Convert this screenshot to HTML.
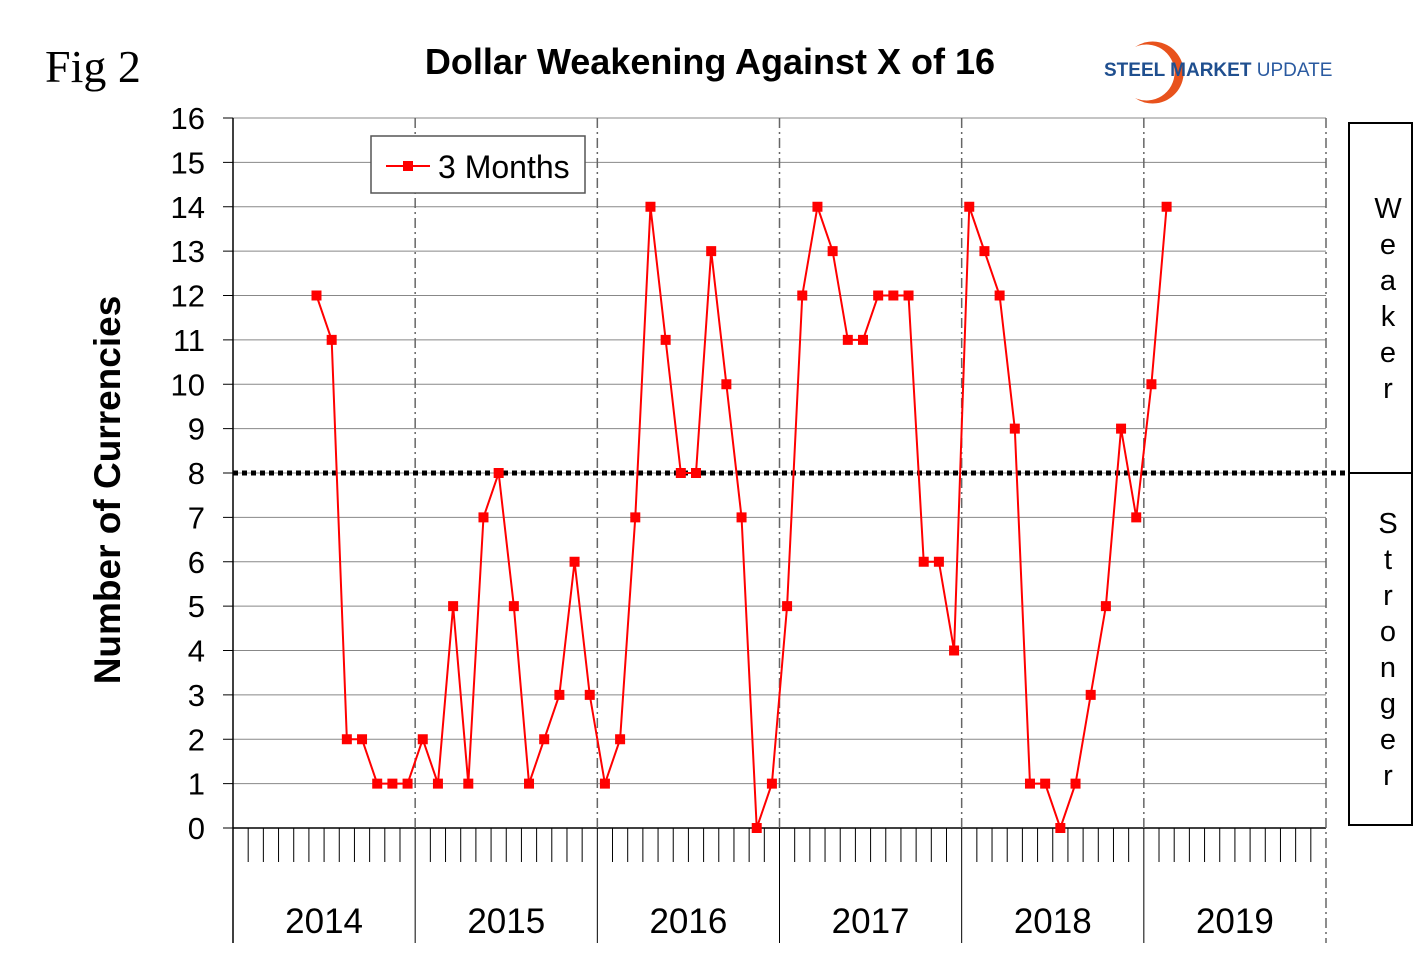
<!DOCTYPE html>
<html><head><meta charset="utf-8"><style>
body{margin:0;background:#fff;}
svg text{font-family:"Liberation Sans",Arial,sans-serif;}
</style></head><body>
<svg id="c" width="1420" height="973" xmlns="http://www.w3.org/2000/svg">
<text x="45" y="82" font-family="Liberation Serif" style="font-family:'Liberation Serif',serif" font-size="46">Fig 2</text>
<text x="710" y="74" text-anchor="middle" font-size="36" font-weight="bold">Dollar Weakening Against X of 16</text>
<g>
<path d="M1135 47 A31 31 0 1 1 1135 98 A28 28 0 1 0 1135 47 Z" fill="#e8521c"/>
<text x="1104" y="76" font-size="19" font-weight="bold" fill="#1f4f8f">STEEL MARKET <tspan font-weight="normal" fill="#2a5aa0">UPDATE</tspan></text>
</g>
<g id="grid"></g>
<g id="marks"></g>
<text transform="translate(120,490) rotate(-90)" text-anchor="middle" font-size="37" font-weight="bold">Number of Currencies</text>
<rect x="371" y="136" width="214" height="57" fill="#fff" stroke="#555" stroke-width="1.5"/>
<line x1="386" y1="166" x2="430" y2="166" stroke="#f00" stroke-width="2"/>
<rect x="403" y="161" width="10" height="10" fill="#f00"/>
<text x="438" y="178" font-size="32">3 Months</text>
<rect x="1349" y="123" width="63" height="702" fill="none" stroke="#000" stroke-width="2"/>
<line x1="1349" y1="473" x2="1412" y2="473" stroke="#000" stroke-width="2"/>
<g id="side"></g>
</svg>
<script>
const values=[12,11,2,2,1,1,1,2,1,5,1,7,8,5,1,2,3,6,3,1,2,7,14,11,8,8,13,10,7,0,1,5,12,14,13,11,11,12,12,12,6,6,4,14,13,12,9,1,1,0,1,3,5,9,7,10,14];
const startMonth=5;
const years=["2014","2015","2016","2017","2018","2019"];
const yTicks=[0,1,2,3,4,5,6,7,8,9,10,11,12,13,14,15,16];
const NS="http://www.w3.org/2000/svg";
const x0=233,x1=1326,y0=828,y1=118,nMonths=72;
const xm=m=>x0+(m+0.5)*(x1-x0)/nMonths;
const xb=m=>x0+m*(x1-x0)/nMonths;
const y=v=>y0-(v/16)*(y0-y1);
function mk(tag,attrs,parent){const e=document.createElementNS(NS,tag);for(const k in attrs)e.setAttribute(k,attrs[k]);parent.appendChild(e);return e;}
const g=document.getElementById('grid');
yTicks.forEach(t=>{
 const l=mk('line',{x1:x0,x2:x1,y1:y(t),y2:y(t),stroke:t==0?'#000':'#888','stroke-width':t==0?1.5:1},g);
 
 
 const tk=mk('line',{x1:x0-10,x2:x0,y1:y(t),y2:y(t),stroke:'#000'},g);
 
 
 const tx=mk('text',{x:205,y:y(t)+11,'text-anchor':'end','font-size':31},g);
 tx.textContent=t;
 
 
});
mk('line',{x1:x0,x2:x0,y1:y1,y2:943,stroke:'#000','stroke-width':1.5},g);
for(let m=1;m<nMonths;m++){
 if(m%12==0){
  const d=mk('line',{x1:xb(m),x2:xb(m),y1:y1,y2:y0,stroke:'#666','stroke-width':1.5,'stroke-dasharray':'10,4,2,4'},g);
  
  
  mk('line',{x1:xb(m),x2:xb(m),y1:y0,y2:943,stroke:'#000','stroke-width':1},g);
 } else {
  const tk=mk('line',{x1:xb(m),x2:xb(m),y1:y0,y2:862,stroke:'#000','stroke-width':1},g);
  
  
 }
}
mk('line',{x1:x1,x2:x1,y1:y1,y2:943,stroke:'#666','stroke-width':1.5,'stroke-dasharray':'10,4,2,4'},g);
years.forEach((yr,i)=>{
 const tx=mk('text',{x:(xb(i*12)+xb(i*12+12))/2,y:933,'text-anchor':'middle','font-size':35},g);
 tx.textContent=yr;
 
 
});
const ref=mk('line',{x1:x0,x2:1349,y1:y(8),y2:y(8),stroke:'#000','stroke-width':5,'stroke-dasharray':'5,4'},g);


const mg=document.getElementById('marks');
const pts=values.map((v,i)=>xm(startMonth+i)+','+y(v)).join(' ');
const pl=mk('polyline',{points:pts,fill:'none',stroke:'#f00','stroke-width':2},mg);


values.forEach((v,i)=>{
 const r=mk('rect',{x:xm(startMonth+i)-5,y:y(v)-5,width:10,height:10,fill:'#f00'},mg);
 
 
});
const side=document.getElementById('side');
[["Weaker",208],["Stronger",523]].forEach(([w,s])=>{
 [...w].forEach((ch,i)=>{
  const t=mk('text',{x:1388,y:s+i*36+10,'text-anchor':'middle','font-size':29},side);
  t.textContent=ch;
  
  
 });
});
</script>
</body></html>
